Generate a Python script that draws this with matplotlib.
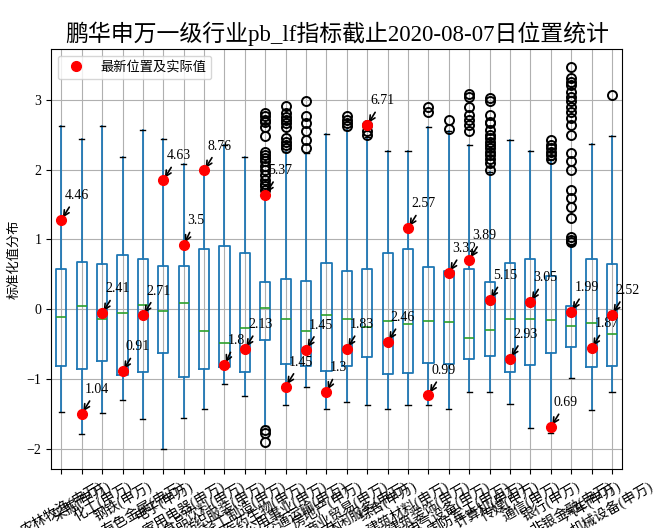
import matplotlib
matplotlib.use('Agg')
import matplotlib.pyplot as plt

plt.rcParams['font.family'] = ['Liberation Serif', 'Noto Sans CJK SC', 'DejaVu Sans']
plt.rcParams['axes.unicode_minus'] = True

# 申万一级行业
names = ['农林牧渔', '采掘', '化工', '钢铁', '有色金属', '电子', '家用电器', '食品饮料',
         '纺织服装', '轻工制造', '医药生物', '公用事业', '交通运输', '房地产', '商业贸易',
         '休闲服务', '综合', '建筑材料', '建筑装饰', '电气设备', '国防军工', '计算机',
         '传媒', '通信', '银行', '非银金融', '汽车', '机械设备']
labels = [n + '(申万)' for n in names]

# 标准化后的箱线统计值
whis_lo = [-1.47, -1.79, -1.49, -1.30, -1.57, -2.01, -1.56, -1.43, -1.08, -1.24,
           -1.68, -1.37, -1.11, -1.43, -1.33, -1.37, -1.43, -1.38, -1.37, -1.43,
           -1.19, -1.19, -1.36, -1.70, -1.78, -0.99, -1.44, -1.19]
q1 = [-0.82, -0.86, -0.74, -0.94, -0.90, -0.63, -0.97, -0.86, -0.83, -0.90,
      -0.44, -0.79, -0.82, -0.89, -0.81, -0.69, -0.93, -0.91, -0.77, -0.78,
      -0.72, -0.67, -0.90, -0.80, -0.63, -0.54, -0.83, -0.81]
med = [-0.11, 0.04, -0.14, -0.06, 0.06, -0.02, 0.09, -0.31, -0.49, -0.27,
       0.01, -0.14, -0.31, -0.08, -0.14, -0.25, -0.17, -0.21, -0.17, -0.19,
       -0.41, -0.30, -0.14, -0.14, -0.15, -0.24, -0.20, -0.36]
q3 = [0.58, 0.67, 0.65, 0.78, 0.72, 0.62, 0.62, 0.87, 0.91, 0.81,
      0.39, 0.44, 0.40, 0.66, 0.55, 0.57, 0.80, 0.87, 0.60, 0.55,
      0.57, 0.39, 0.66, 0.72, 0.47, 0.04, 0.72, 0.65]
whis_hi = [2.63, 2.44, 2.63, 2.18, 2.57, 2.44, 2.08, 1.99, 2.36, 2.18,
           1.68, 2.26, 2.24, 2.51, 2.57, 2.47, 2.27, 2.27, 2.62, 2.55,
           2.36, 1.97, 2.42, 2.27, 2.14, 0.92, 2.37, 2.48]
fliers = [[], [], [], [], [], [], [], [], [], [],
          [2.81, 2.77, 2.72, 2.68, 2.62, 2.48, 2.26, 2.21, 2.17, 2.12, 2.05, 2.0,
           1.93, 1.85, 1.80, 1.76, 1.71, -1.73, -1.78, -1.90],
          [2.91, 2.81, 2.76, 2.71, 2.67, 2.62, 2.45, 2.40, 2.36, 2.31],
          [2.99, 2.77, 2.67, 2.55, 2.42, 2.31],
          [],
          [2.77, 2.71, 2.67, 2.63],
          [2.64, 2.55, 2.50],
          [], [],
          [2.90, 2.83],
          [2.72, 2.59],
          [3.08, 3.05, 2.90, 2.79, 2.71, 2.64, 2.55],
          [3.03, 2.98, 2.79, 2.69, 2.67, 2.57, 2.50, 2.45, 2.40, 2.36, 2.31, 2.26,
           2.21, 2.16, 2.09, 2.0],
          [], [],
          [2.43, 2.36, 2.31, 2.26, 2.21, 2.16],
          [3.47, 3.31, 3.26, 3.21, 3.12, 3.05, 2.98, 2.90, 2.83, 2.74, 2.64, 2.50,
           2.24, 2.12, 2.0, 1.71, 1.59, 1.47, 1.31, 1.04, 0.99, 0.96],
          [],
          [3.07]]

# 最新位置(标准化) 及 实际pb值
latest_z = [1.28, -1.50, -0.06, -0.89, -0.09, 1.85, 0.92, 1.99, -0.80, -0.57,
            1.64, -1.11, -0.58, -1.19, -0.57, 2.64, -0.47, 1.16, -1.23, 0.52,
            0.71, 0.13, -0.71, 0.10, -1.69, -0.04, -0.56, -0.08]
latest_pb = [4.46, 1.04, 2.41, 0.91, 2.71, 4.63, 3.5, 8.76, 1.8, 2.13,
             5.37, 1.45, 1.45, 1.3, 1.83, 6.71, 2.46, 2.57, 0.99, 3.32,
             3.89, 5.15, 2.93, 3.05, 0.69, 1.99, 1.87, 2.52]

fig = plt.figure(figsize=(6.64, 5.28), dpi=100)
ax = fig.add_subplot(111)
fig.subplots_adjust(left=0.077, right=0.937, top=0.907, bottom=0.112)

stats = []
for i in range(len(names)):
    stats.append({'label': labels[i], 'whislo': whis_lo[i], 'q1': q1[i], 'med': med[i],
                  'q3': q3[i], 'whishi': whis_hi[i], 'fliers': fliers[i]})

ax.bxp(stats, widths=0.5,
       boxprops=dict(color='#1f77b4', linewidth=1.3),
       whiskerprops=dict(color='#1f77b4', linewidth=1.3),
       medianprops=dict(color='#2ca02c', linewidth=1.2),
       capprops=dict(color='k', linewidth=1.0),
       flierprops=dict(marker='o', markerfacecolor='none', markeredgecolor='k',
                       markersize=6.5, markeredgewidth=1.4))

pos = list(range(1, len(names) + 1))
ax.plot(pos, latest_z, 'o', color='red', markersize=7, label='最新位置及实际值', zorder=4)
for x, z, v in zip(pos, latest_z, latest_pb):
    ax.annotate(str(v), xy=(x, z), xytext=(x + 0.15, z + 0.3), fontsize=10,
                arrowprops=dict(arrowstyle='->', color='black', lw=1.2))

ax.set_xlim(0.5, 28.5)
ax.set_ylim(-2.29, 3.73)
ax.grid(True)
ax.set_xticks(pos)
ax.set_xticklabels(labels, rotation=30, fontsize=10)
ax.tick_params(axis='y', labelsize=10)
ax.set_ylabel('标准化值分布', fontsize=9.5)
ax.set_title('鹏华申万一级行业pb_lf指标截止2020-08-07日位置统计', fontsize=16.5)
ax.legend(loc='upper left', fontsize=9.5)

fig.savefig('out.png', dpi=100)
